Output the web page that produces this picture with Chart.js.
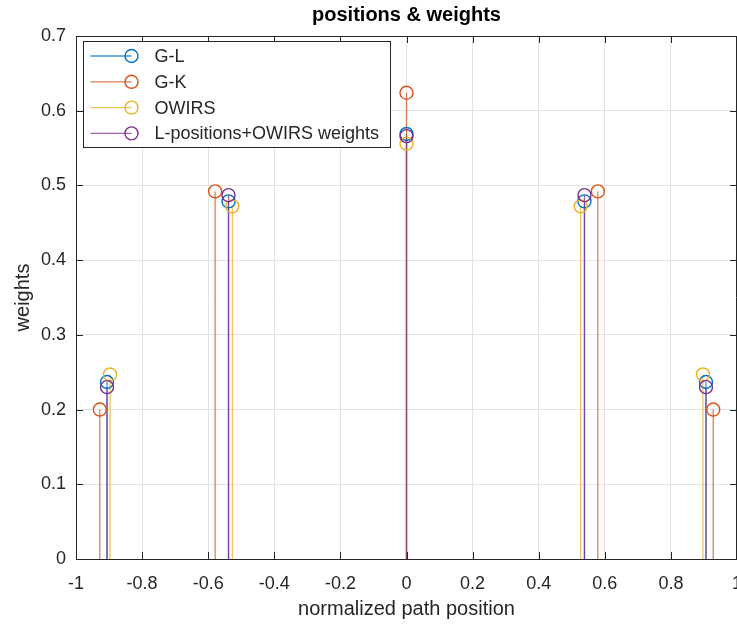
<!DOCTYPE html>
<html>
<head>
<meta charset="utf-8">
<title>positions & weights</title>
<script src="https://cdn.jsdelivr.net/npm/chart.js@4.4.0/dist/chart.umd.min.js"></script>
<style>
  html, body { margin: 0; padding: 0; background: #fff; overflow: hidden; }
  #wrap { position: relative; width: 737px; height: 626px; }
</style>
</head>
<body>
<div id="wrap"><canvas id="chart"></canvas></div>
<script>
'use strict';

// node positions (normalized path position) and weights
const glX = [-0.9062, -0.5385, 0, 0.5385, 0.9062];
const glW = [0.2369, 0.4786, 0.5689, 0.4786, 0.2369];
const gkX = [-0.928, -0.579, 0, 0.579, 0.928];
const gkW = [0.200, 0.492, 0.624, 0.492, 0.200];
const owX = [-0.897, -0.527, 0, 0.527, 0.897];
const owW = [0.247, 0.472, 0.556, 0.472, 0.247];
const lpX = [-0.9062, -0.5385, 0, 0.5385, 0.9062];
const lpW = [0.230, 0.487, 0.566, 0.487, 0.230];

const seriesNames = ['G-L', 'G-K', 'OWIRS', 'L-positions+OWIRS weights'];

const xTickVals   = [-1, -0.8, -0.6, -0.4, -0.2, 0, 0.2, 0.4, 0.6, 0.8, 1];
const xTickLabels = ['-1', '-0.8', '-0.6', '-0.4', '-0.2', '0', '0.2', '0.4', '0.6', '0.8', '1'];
const yTickVals   = [0, 0.1, 0.2, 0.3, 0.4, 0.5, 0.6, 0.7];
const yTickLabels = ['0', '0.1', '0.2', '0.3', '0.4', '0.5', '0.6', '0.7'];

const FONT    = '"Liberation Sans", Arial, Helvetica, sans-serif';
const AXIS    = '#262626';
const GRID    = '#e3e3e3';
const COLORS  = ['#0072BD', '#D95319', '#EDB120', '#7E2F8E'];

function pts(xs, ys) {
  return xs.map((x, i) => ({ x, y: ys[i] }));
}

function dataset(label, xs, ys, color, order) {
  return {
    label,
    data: pts(xs, ys),
    borderColor: color,
    backgroundColor: 'rgba(0,0,0,0)',
    pointStyle: 'circle',
    pointRadius: 6.5,
    pointHoverRadius: 6.5,
    pointBorderWidth: 1.4,
    showLine: false,
    order,
  };
}

// stems: vertical line from y=0 up to each point, drawn under the markers
const stemPlugin = {
  id: 'stems',
  beforeDatasetsDraw(chart) {
    const { ctx, chartArea, scales: { x, y } } = chart;
    ctx.save();
    ctx.beginPath();
    ctx.rect(chartArea.left, chartArea.top, chartArea.right - chartArea.left, chartArea.bottom - chartArea.top);
    ctx.clip();
    ctx.lineWidth = 1.3;
    chart.data.datasets.forEach(ds => {
      ctx.strokeStyle = ds.borderColor;
      ctx.globalAlpha = 0.75;
      ds.data.forEach(p => {
        const px = x.getPixelForValue(p.x);
        ctx.beginPath();
        ctx.moveTo(px, y.getPixelForValue(0));
        ctx.lineTo(px, y.getPixelForValue(p.y));
        ctx.stroke();
      });
    });
    ctx.restore();
  },
};

// MATLAB style box: top/right lines and inward ticks, plus legend box
const boxPlugin = {
  id: 'matlabBox',
  afterDatasetsDraw(chart) {
    const { ctx, chartArea: a, scales: { x, y } } = chart;
    ctx.save();
    ctx.strokeStyle = AXIS;
    ctx.lineWidth = 1;
    ctx.beginPath();
    ctx.moveTo(a.left, a.top + 0.5);
    ctx.lineTo(a.right, a.top + 0.5);
    ctx.moveTo(a.right - 0.5, a.top);
    ctx.lineTo(a.right - 0.5, a.bottom);
    const tl = 7;
    xTickVals.forEach(v => {
      const px = Math.round(x.getPixelForValue(v)) + 0.5;
      ctx.moveTo(px, a.bottom);
      ctx.lineTo(px, a.bottom - tl);
      ctx.moveTo(px, a.top);
      ctx.lineTo(px, a.top + tl);
    });
    yTickVals.forEach(v => {
      const py = Math.round(y.getPixelForValue(v)) + 0.5;
      ctx.moveTo(a.left, py);
      ctx.lineTo(a.left + tl, py);
      ctx.moveTo(a.right, py);
      ctx.lineTo(a.right - tl, py);
    });
    ctx.stroke();

    // legend
    const bx = a.left + 7.5, by = a.top + 5.5, bw = 307, bh = 106;
    ctx.fillStyle = '#ffffff';
    ctx.fillRect(bx, by, bw, bh);
    ctx.strokeRect(bx, by, bw, bh);
    ctx.font = '18px ' + FONT;
    ctx.textBaseline = 'middle';
    ctx.textAlign = 'left';
    chart.data.datasets.forEach((ds, i) => {
      const ry = by + 14.5 + i * 25.8;
      ctx.strokeStyle = ds.borderColor;
      ctx.lineWidth = 1.3;
      ctx.globalAlpha = 0.75;
      ctx.beginPath();
      ctx.moveTo(bx + 7, ry);
      ctx.lineTo(bx + 48, ry);
      ctx.stroke();
      ctx.globalAlpha = 1;
      ctx.lineWidth = 1.4;
      ctx.beginPath();
      ctx.arc(bx + 48, ry, 6.5, 0, Math.PI * 2);
      ctx.stroke();
      ctx.fillStyle = AXIS;
      ctx.fillText(ds.label, bx + 71, ry + 1);
    });
    ctx.restore();
  },
};

new Chart(document.getElementById('chart'), {
  type: 'scatter',
  data: {
    datasets: [
      dataset(seriesNames[0], glX, glW, COLORS[0], 3),
      dataset(seriesNames[1], gkX, gkW, COLORS[1], 2),
      dataset(seriesNames[2], owX, owW, COLORS[2], 1),
      dataset(seriesNames[3], lpX, lpW, COLORS[3], 0),
    ],
  },
  options: {
    responsive: true,
    maintainAspectRatio: false,
    animation: false,
    layout: { padding: 0, autoPadding: false },
    plugins: {
      legend: { display: false },
      tooltip: { enabled: false },
      title: {
        display: true,
        fullSize: false,
        text: 'positions & weights',
        color: '#000',
        font: { family: FONT, size: 20, weight: 'bold' },
        padding: { top: 3, bottom: 9 },
      },
    },
    scales: {
      x: {
        type: 'linear',
        min: -1,
        max: 1,
        afterBuildTicks: s => { s.ticks = xTickVals.map(v => ({ value: v })); },
        afterFit: s => { s.height = 67; s.paddingLeft = 0; s.paddingRight = 0; },
        ticks: {
          callback: (v, i) => xTickLabels[i],
          color: AXIS,
          font: { family: FONT, size: 18 },
          padding: 14,
          maxRotation: 0,
          autoSkip: false,
        },
        grid: { color: GRID, drawTicks: false, tickLength: 0 },
        border: { display: true, color: AXIS, width: 1 },
        title: {
          display: true,
          text: 'normalized path position',
          color: AXIS,
          font: { family: FONT, size: 20 },
          padding: { top: 0, bottom: 5 },
        },
      },
      y: {
        type: 'linear',
        min: 0,
        max: 0.7,
        afterBuildTicks: s => { s.ticks = yTickVals.map(v => ({ value: v })); },
        afterFit: s => { s.width = 76; s.paddingTop = 0; s.paddingBottom = 0; },
        ticks: {
          callback: (v, i) => yTickLabels[i],
          color: AXIS,
          font: { family: FONT, size: 18 },
          padding: 10,
          autoSkip: false,
        },
        grid: { color: GRID, drawTicks: false, tickLength: 0 },
        border: { display: true, color: AXIS, width: 1 },
        title: {
          display: true,
          text: 'weights',
          color: AXIS,
          font: { family: FONT, size: 20 },
          padding: { top: 11, bottom: 0 },
        },
      },
    },
  },
  plugins: [stemPlugin, boxPlugin],
});
</script>
</body>
</html>
